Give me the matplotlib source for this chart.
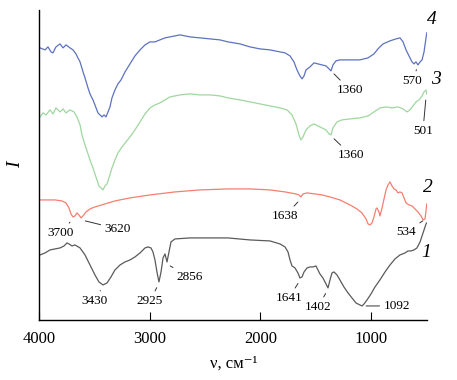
import matplotlib
matplotlib.use("Agg")
import matplotlib.pyplot as plt

plt.rcParams['font.family'] = ['Liberation Serif', 'DejaVu Serif']

# ---- data (wavenumber, cm^-1 ; intensity, arbitrary offset units) ----
wn4 = [3995, 3950, 3923, 3896, 3878, 3851, 3814, 3787, 3760, 3724, 3697, 3670, 3652, 3633,
       3606, 3588, 3561, 3543, 3516, 3498, 3471, 3452, 3434, 3416, 3398, 3380, 3362, 3344,
       3317, 3290, 3262, 3226, 3181, 3136, 3090, 3045, 3000, 2955, 2910, 2864, 2819, 2729,
       2638, 2548, 2457, 2367, 2294, 2186, 2095, 2005, 1914, 1824, 1778, 1733, 1697, 1670,
       1643, 1624, 1606, 1588, 1552, 1516, 1480, 1444, 1407, 1380, 1362, 1344, 1317, 1281,
       1190, 1100, 1027, 973, 937, 891, 828, 774, 737, 710, 683, 656, 629, 611, 593, 575,
       556, 538, 520, 502, 495]
I4 = [272, 270, 273, 268, 267, 273, 276, 272, 275, 272, 270, 266, 262, 258,
      248, 242, 232, 226, 220, 215, 207, 205, 203, 205, 203, 208, 213, 222,
      230, 236, 240, 248, 256, 264, 270, 275, 278, 278, 280, 282, 283, 285,
      283, 282, 281, 280, 278, 276, 273, 271, 270, 268, 267, 264, 258, 250,
      244, 241, 244, 250, 253, 257, 256, 255, 254, 251, 249, 255, 259, 260,
      260, 260, 262, 266, 271, 276, 279, 281, 282, 278, 270, 264, 258, 256, 258, 255,
      258, 260, 268, 282, 287]

wn3 = [3995, 3968, 3941, 3905, 3878, 3851, 3814, 3787, 3760, 3724, 3688, 3661, 3633, 3615,
       3597, 3579, 3561, 3543, 3516, 3498, 3480, 3462, 3443, 3425, 3407, 3389, 3371, 3344,
       3317, 3290, 3253, 3217, 3181, 3136, 3090, 3045, 3000, 2955, 2910, 2864, 2819, 2729,
       2638, 2548, 2457, 2367, 2294, 2186, 2095, 2005, 1914, 1824, 1760, 1715, 1679, 1652,
       1634, 1615, 1588, 1552, 1516, 1480, 1444, 1407, 1380, 1362, 1344, 1308, 1263, 1190,
       1100, 1027, 973, 919, 864, 810, 756, 710, 674, 647, 620, 593, 565, 538, 520, 502, 495]
I3 = [203, 207, 205, 210, 206, 212, 208, 211, 207, 210, 208, 203, 195, 185,
      178, 172, 166, 160, 152, 146, 140, 134, 132, 130, 134, 136, 142, 152,
      160, 167, 173, 178, 183, 190, 198, 206, 212, 215, 217, 220, 223, 225,
      226, 225, 225, 224, 222, 220, 218, 216, 214, 212, 210, 205, 196, 185,
      180, 183, 190, 194, 196, 194, 192, 190, 186, 185, 192, 198, 200, 201,
      202, 204, 208, 212, 213, 212, 213, 211, 208, 210, 214, 218, 220, 224, 228, 230, 226]

wn2 = [3995, 3905, 3860, 3796, 3760, 3733, 3715, 3697, 3679, 3661, 3643, 3624, 3606, 3579,
       3543, 3498, 3407, 3317, 3181, 3000, 2774, 2548, 2294, 2095, 1914, 1778, 1679, 1652,
       1634, 1615, 1579, 1507, 1444, 1371, 1281, 1190, 1127, 1082, 1045, 1027, 1009, 991,
       973, 955, 946, 928, 919, 900, 882, 864, 846, 828, 810, 792, 774, 756, 738, 719,
       701, 683, 656, 629, 602, 575, 547, 529, 511, 495]
I2 = [120, 120, 120, 119, 117, 112, 106, 103, 104, 107, 105, 102, 104, 108,
      111, 113, 116, 119, 122, 125, 128, 130, 131, 131, 130, 128, 126, 125,
      123, 126, 127, 126, 125, 123, 120, 115, 111, 107, 101, 96, 95, 97,
      103, 111, 112, 108, 104, 112, 121, 130, 135, 138, 134, 131, 130, 127, 128, 127,
      122, 117, 115, 114, 111, 108, 104, 100, 101, 116]

wn1 = [3995, 3950, 3905, 3860, 3814, 3778, 3751, 3733, 3706, 3679, 3633, 3588, 3543, 3498,
       3462, 3425, 3389, 3353, 3317, 3271, 3226, 3181, 3136, 3090, 3045, 3018, 2991, 2973,
       2955, 2937, 2919, 2900, 2882, 2864, 2846, 2828, 2810, 2774, 2638, 2457, 2294, 2095,
       1914, 1824, 1778, 1751, 1733, 1715, 1688, 1661, 1643, 1624, 1606, 1579, 1552, 1525,
       1498, 1480, 1462, 1435, 1407, 1389, 1371, 1353, 1335, 1308, 1281, 1245, 1208, 1172,
       1136, 1100, 1082, 1063, 1036, 1000, 964, 919, 873, 828, 783, 738, 692, 665, 638,
       611, 584, 556, 538, 520, 502, 495]
I1 = [65, 67, 70, 71, 72, 74, 77, 76, 74, 75, 72, 65, 55, 45,
      38, 35, 37, 43, 50, 55, 58, 60, 63, 67, 72, 73, 72, 68,
      60, 48, 38, 48, 62, 66, 58, 68, 78, 81, 82, 82, 82, 80,
      79, 76, 73, 68, 60, 54, 52, 47, 42, 43, 48, 52, 53, 53,
      54, 50, 46, 42, 36, 32, 40, 47, 48, 45, 40, 33, 27, 22,
      17, 15, 14, 16, 20, 26, 33, 40, 48, 55, 61, 65, 67, 69, 69,
      70, 72, 78, 84, 90, 96, 97]

# peak labels: text, peak position (wn, I), label position (wn, I)
peak_text = ['1360', '570', '501', '1360', '1638', '534', '3700', '3620',
             '3430', '2925', '2856', '1641', '1402', '1092']
peak_xy = [(1362, 249), (573, 254), (501, 224), (1362, 184), (1636, 121), (532, 99),
           (3700, 101), (3622, 100), (3430, 33), (2922, 36), (2850, 56), (1641, 40),
           (1392, 30), (1082, 14)]
label_xy = [(1190, 230), (632, 239), (530, 189), (1181, 165), (1778, 104), (683, 88),
            (3805, 87), (3290, 91), (3502, 19), (3000, 19), (2638, 43), (1742, 22),
            (1480, 13), (885, 14)]

curve_names = ['4', '3', '2', '1']
curve_name_xy = [(448, 300), (412, 240), (485, 132), (502, 67)]

colors = ['#5d72c0', '#9fd79f', '#f47f6f', '#5a5a5a']

# ---- figure ----
fig = plt.figure(figsize=(4.57, 3.80), dpi=100)
ax = fig.add_axes([0.0864, 0.158, 0.848, 0.816])

for wn, I, c in zip([wn4, wn3, wn2, wn1], [I4, I3, I2, I1], colors):
    ax.plot(wn, I, color=c, lw=0.9)

for t, p, q in zip(peak_text, peak_xy, label_xy):
    ha = 'left' if t == '1092' else 'center'
    ax.annotate(t, xy=p, xytext=q, ha=ha, va='center', fontsize=9.5,
                arrowprops=dict(arrowstyle='-', color='#333333', lw=0.7,
                                shrinkA=1, shrinkB=3))

for t, p in zip(curve_names, curve_name_xy):
    ax.text(p[0], p[1], t, fontsize=14, fontstyle='italic', ha='center', va='center',
            clip_on=False)

ax.set_xlim(4000, 493)
ax.set_ylim(0, 310)
ax.set_xticks([4000, 3000, 2000, 1000])
ax.set_yticks([])
ax.tick_params(axis='x', direction='in', length=6, width=0.8, labelsize=12, pad=8)
for s in ['top', 'right']:
    ax.spines[s].set_visible(False)
for s in ['left', 'bottom']:
    ax.spines[s].set_linewidth(1.0)

ax.set_xlabel('ν, см⁻¹', fontsize=12, labelpad=6)
ax.set_ylabel('I', fontsize=14, fontstyle='italic', labelpad=11)

fig.savefig('out.png', dpi=100)
